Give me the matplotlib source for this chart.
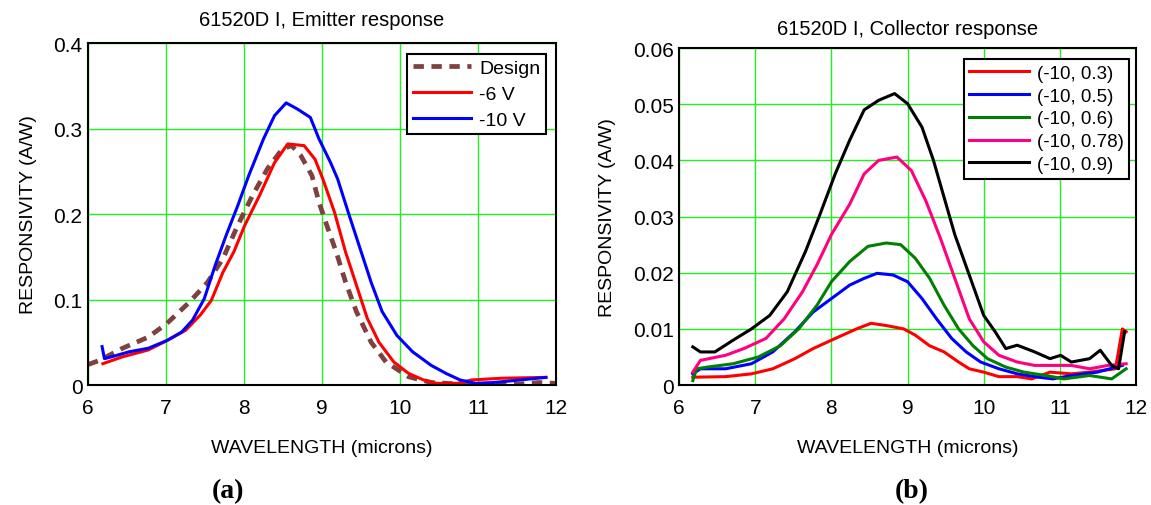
import numpy as np
import matplotlib
matplotlib.use("Agg")
import matplotlib.pyplot as plt
from matplotlib.ticker import FuncFormatter

plt.rcParams['font.family'] = ['Liberation Sans', 'DejaVu Sans']

# ---- panel (a): emitter response ----
design_x = [6.0, 6.15, 6.44, 6.77, 7.01, 7.30, 7.53, 7.73, 7.92, 8.11, 8.30, 8.49, 8.61,
            8.73, 8.87, 8.96, 9.06, 9.18, 9.30, 9.44, 9.63, 9.82, 10.11, 10.4, 10.82,
            11.5, 11.78, 12.0]
design_y = [0.024, 0.029, 0.043, 0.056, 0.072, 0.097, 0.120, 0.148, 0.187, 0.222, 0.253,
            0.276, 0.280, 0.268, 0.245, 0.214, 0.187, 0.156, 0.121, 0.086, 0.050, 0.027,
            0.0097, 0.003, 0.001, 0.001, 0.003, 0.002]

v6_x = [6.19, 6.44, 6.77, 7.01, 7.25, 7.44, 7.58, 7.73, 7.87, 8.01, 8.20, 8.39, 8.56,
        8.77, 8.91, 9.01, 9.16, 9.30, 9.44, 9.58, 9.73, 9.92, 10.11, 10.30, 10.47,
        10.73, 10.92, 11.3, 11.87]
v6_y = [0.025, 0.033, 0.041, 0.052, 0.064, 0.082, 0.099, 0.132, 0.156, 0.187, 0.222,
        0.260, 0.282, 0.280, 0.264, 0.241, 0.202, 0.156, 0.117, 0.078, 0.050, 0.027,
        0.0136, 0.006, 0.002, 0.002, 0.006, 0.008, 0.009]

v10_x = [6.18, 6.21, 6.3, 6.53, 6.77, 7.01, 7.2, 7.34, 7.49, 7.63, 7.77, 7.92, 8.06,
         8.25, 8.39, 8.54, 8.68, 8.85, 8.96, 9.11, 9.20, 9.35, 9.49, 9.63, 9.77, 9.96,
         10.16, 10.4, 10.59, 10.77, 10.97, 11.2, 11.54, 11.87]
v10_y = [0.045, 0.031, 0.033, 0.039, 0.043, 0.052, 0.062, 0.076, 0.101, 0.140, 0.175,
         0.210, 0.245, 0.288, 0.315, 0.330, 0.323, 0.313, 0.288, 0.260, 0.241, 0.198,
         0.159, 0.120, 0.086, 0.058, 0.039, 0.023, 0.0136, 0.006, 0.002, 0.003, 0.006,
         0.009]

# ---- panel (b): collector response ----
c03_x = [6.18, 6.61, 6.95, 7.23, 7.52, 7.76, 8.05, 8.33, 8.52, 8.72, 8.95, 9.10, 9.29,
         9.48, 9.67, 9.81, 10.0, 10.2, 10.44, 10.63, 10.87, 11.15, 11.39, 11.73, 11.82,
         11.87]
c03_y = [0.0014, 0.0015, 0.002, 0.0029, 0.0047, 0.0065, 0.0083, 0.0100, 0.0110, 0.0106,
         0.0100, 0.0089, 0.0070, 0.0059, 0.0041, 0.0029, 0.0023, 0.0015, 0.0015, 0.0011,
         0.0023, 0.0020, 0.0023, 0.0029, 0.0100, 0.0095]

c05_x = [6.18, 6.28, 6.61, 6.95, 7.23, 7.52, 7.76, 8.0, 8.24, 8.43, 8.6, 8.81, 9.0,
         9.19, 9.38, 9.58, 9.77, 9.96, 10.2, 10.44, 10.72, 10.91, 11.15, 11.49, 11.82]
c05_y = [0.0020, 0.0029, 0.0029, 0.0038, 0.0059, 0.0095, 0.0130, 0.0154, 0.0178, 0.0190,
         0.0199, 0.0196, 0.0184, 0.0154, 0.0118, 0.0083, 0.0059, 0.0041, 0.0029, 0.0020,
         0.0014, 0.0011, 0.0017, 0.0023, 0.0035]

c06_x = [6.18, 6.23, 6.37, 6.71, 7.04, 7.33, 7.57, 7.81, 8.0, 8.24, 8.48, 8.72, 8.91,
         9.1, 9.29, 9.48, 9.67, 9.86, 10.05, 10.29, 10.53, 10.82, 11.05, 11.39, 11.68,
         11.87]
c06_y = [0.0008, 0.0029, 0.0032, 0.0038, 0.0050, 0.0070, 0.0100, 0.0142, 0.0184, 0.0220,
         0.0247, 0.0253, 0.0250, 0.0226, 0.0190, 0.0142, 0.0100, 0.0070, 0.0047, 0.0032,
         0.0023, 0.0017, 0.0011, 0.0017, 0.0011, 0.0029]

c078_x = [6.18, 6.28, 6.61, 6.85, 7.14, 7.38, 7.62, 7.81, 8.0, 8.24, 8.43, 8.62, 8.86,
          9.05, 9.24, 9.43, 9.62, 9.81, 10.0, 10.2, 10.44, 10.67, 10.91, 11.15, 11.39,
          11.63, 11.87]
c078_y = [0.0023, 0.0044, 0.0053, 0.0065, 0.0083, 0.0118, 0.0166, 0.0214, 0.0268, 0.0322,
          0.0376, 0.0400, 0.0406, 0.0382, 0.0328, 0.0262, 0.0190, 0.0118, 0.0077, 0.0053,
          0.0041, 0.0035, 0.0035, 0.0035, 0.0029, 0.0035, 0.0038]

c09_x = [6.18, 6.28, 6.47, 6.71, 6.95, 7.19, 7.42, 7.66, 7.85, 8.05, 8.24, 8.43, 8.62,
         8.83, 9.0, 9.19, 9.34, 9.48, 9.62, 9.81, 10.0, 10.15, 10.29, 10.44, 10.67,
         10.87, 11.01, 11.15, 11.39, 11.53, 11.68, 11.77, 11.85]
c09_y = [0.0068, 0.0059, 0.0059, 0.0080, 0.0100, 0.0124, 0.0166, 0.0238, 0.0304, 0.0376,
         0.0436, 0.0490, 0.0507, 0.0519, 0.0501, 0.0459, 0.0400, 0.0334, 0.0268, 0.0196,
         0.0124, 0.0095, 0.0065, 0.0071, 0.0059, 0.0047, 0.0053, 0.0041, 0.0047, 0.0062,
         0.0035, 0.0029, 0.0095]

xticks = [6, 7, 8, 9, 10, 11, 12]
yticks_a = [0, 0.1, 0.2, 0.3, 0.4]
yticks_b = [0, 0.01, 0.02, 0.03, 0.04, 0.05, 0.06]

fig = plt.figure(figsize=(11.51, 5.06), dpi=100)
ax1 = fig.add_axes([0.0765, 0.237, 0.4066, 0.676])
ax2 = fig.add_axes([0.590, 0.237, 0.397, 0.666])

grid_col = '#22ee22'
fmt = FuncFormatter(lambda v, p: '0' if v == 0 else ('%g' % v))


def style(ax, yticks, title, tpad):
    ax.set_xlim(6, 12)
    ax.set_ylim(yticks[0], yticks[-1])
    ax.set_xticks(xticks)
    ax.set_yticks(yticks)
    ax.yaxis.set_major_formatter(fmt)
    ax.grid(True, color=grid_col, linewidth=1.0)
    ax.set_axisbelow(True)
    ax.tick_params(length=0, labelsize=15)
    ax.tick_params(axis='x', pad=9)
    ax.tick_params(axis='y', pad=4)
    for s in ax.spines.values():
        s.set_linewidth(1.5)
        s.set_color('black')
    ax.set_title(title, fontsize=14.5, pad=tpad)
    ax.set_xlabel('WAVELENGTH (microns)', fontsize=14, labelpad=16)
    ax.set_ylabel('RESPONSIVITY (A/W)', fontsize=14, labelpad=12)


lw = 2.2
ax1.plot(design_x, design_y, color='#7f4040', lw=3.4, ls=(0, (2.2, 1.6)), label='Design')
ax1.plot(v6_x, v6_y, color='#ff0000', lw=lw, label='-6 V')
ax1.plot(v10_x, v10_y, color='#0000ff', lw=lw, label='-10 V')
style(ax1, yticks_a, '61520D I, Emitter response', 13)

ax2.plot(c03_x, c03_y, color='#ff0000', lw=lw, label='(-10, 0.3)')
ax2.plot(c05_x, c05_y, color='#0000ff', lw=lw, label='(-10, 0.5)')
ax2.plot(c06_x, c06_y, color='#008000', lw=lw, label='(-10, 0.6)')
ax2.plot(c078_x, c078_y, color='#ff0080', lw=lw, label='(-10, 0.78)')
ax2.plot(c09_x, c09_y, color='#000000', lw=lw, label='(-10, 0.9)')
style(ax2, yticks_b, '61520D I, Collector response', 10)

leg1 = ax1.legend(loc='upper right', fontsize=14, fancybox=False, framealpha=1,
                  edgecolor='black', bbox_to_anchor=(0.979, 0.969), borderaxespad=0,
                  handlelength=3.0, handletextpad=0.4, labelspacing=0.42, borderpad=0.3)
leg2 = ax2.legend(loc='upper right', fontsize=13.5, fancybox=False, framealpha=1,
                  edgecolor='black', bbox_to_anchor=(0.985, 0.967), borderaxespad=0,
                  handlelength=3.2, handletextpad=0.4, labelspacing=0.3, borderpad=0.3)
for leg in (leg1, leg2):
    leg.get_frame().set_linewidth(1.5)

fig.text(0.198, 0.015, '(a)', fontsize=20, fontweight='bold', family='Liberation Serif',
         ha='center')
fig.text(0.792, 0.015, '(b)', fontsize=20, fontweight='bold', family='Liberation Serif',
         ha='center')

fig.savefig('out.png', dpi=100)
